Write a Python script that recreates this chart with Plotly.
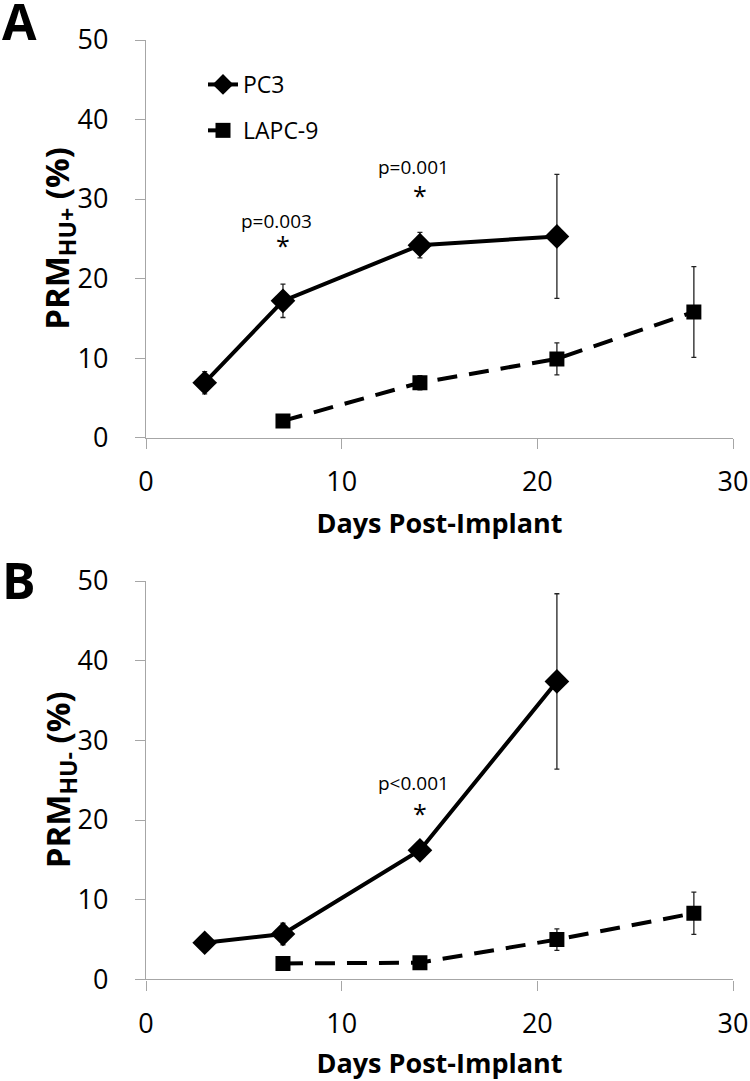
import plotly.graph_objects as go

# ---------------- data ----------------
days_pc3 = [3, 7, 14, 21]
days_lapc = [7, 14, 21, 28]

a_pc3 = [6.9, 17.2, 24.2, 25.3]
a_pc3_err = [1.4, 2.1, 1.6, 7.8]
a_lapc = [2.1, 6.9, 9.9, 15.8]
a_lapc_err = [0.3, 0.9, 2.0, 5.7]

b_pc3 = [4.6, 5.7, 16.2, 37.4]
b_pc3_err = [0.3, 1.35, 0.3, 11.0]
b_lapc = [2.0, 2.1, 5.0, 8.3]
b_lapc_err = [0.2, 0.3, 1.35, 2.65]

a_pvals = [(7, "p=0.003", 27.2, 24.4), (14, "p=0.001", 34.0, 30.6)]
b_pvals = [(14, "p<0.001", 24.7, 21.0)]

x_ticks = [0, 10, 20, 30]
y_ticks = [0, 10, 20, 30, 40, 50]

# ---------------- figure ----------------
W, H = 750, 1081
FONT = "Open Sans"
fig = go.Figure()

def add_series(x, y, err, name, symbol, size, dash, xa, ya, show):
    fig.add_trace(go.Scatter(
        x=x, y=y, name=name, mode="lines+markers",
        xaxis=xa, yaxis=ya, showlegend=show, legendgroup=name,
        line=dict(color="black", width=4, dash=dash),
        marker=dict(symbol=symbol, size=size, color="black"),
        error_y=dict(type="data", array=err, visible=True,
                     color="#222222", thickness=1.3, width=2.5),
    ))

add_series(days_pc3, a_pc3, a_pc3_err, "PC3", "diamond", 19, "solid", "x", "y", True)
add_series(days_lapc, a_lapc, a_lapc_err, "LAPC-9", "square", 15, "20px,12px", "x", "y", True)
add_series(days_pc3, b_pc3, b_pc3_err, "PC3", "diamond", 19, "solid", "x2", "y2", False)
add_series(days_lapc, b_lapc, b_lapc_err, "LAPC-9", "square", 15, "20px,12px", "x2", "y2", False)

xdom = [146 / W, 733 / W]
A_TOP, A_BOT = 40, 437.6
B_TOP, B_BOT = 581, 979.4
ydomA = [1 - A_BOT / H, 1 - A_TOP / H]
ydomB = [1 - B_BOT / H, 1 - B_TOP / H]

axis_common = dict(
    showline=True, linecolor="#a6a6a6", linewidth=1.3,
    ticks="outside", ticklen=10, tickcolor="#a6a6a6", tickwidth=1.3,
    showgrid=False, zeroline=False, automargin=False,
    tickfont=dict(family=FONT, size=27, color="black"),
)

xaxis_common = dict(axis_common, range=[0, 30], tickvals=x_ticks,
                    ticklabelstandoff=10,
                    title=dict(text="<b>Days Post-Implant</b>",
                               font=dict(family=FONT, size=27, color="black"),
                               standoff=15))

fig.update_layout(
    width=W, height=H,
    margin=dict(l=0, r=0, t=0, b=0),
    paper_bgcolor="white", plot_bgcolor="white",
    xaxis=dict(xaxis_common, domain=xdom, anchor="y"),
    yaxis=dict(axis_common, domain=ydomA, range=[0, 50], tickvals=y_ticks,
               anchor="x", ticklabelstandoff=21),
    xaxis2=dict(xaxis_common, domain=xdom, anchor="y2"),
    yaxis2=dict(axis_common, domain=ydomB, range=[0, 50], tickvals=y_ticks,
                anchor="x2", ticklabelstandoff=21),
    legend=dict(x=203 / W, y=1 - 63 / H, xanchor="left", yanchor="top",
                font=dict(family=FONT, size=23, color="black"),
                bgcolor="rgba(0,0,0,0)", tracegroupgap=13, itemwidth=30),
    showlegend=True,
)

annots = []
for xx, txt, ytxt, ystar in a_pvals:
    annots.append(dict(x=xx, y=ytxt, xref="x", yref="y", text=txt, showarrow=False,
                       font=dict(family=FONT, size=19, color="black"), xshift=-6))
    annots.append(dict(x=xx, y=ystar, xref="x", yref="y", text="*", showarrow=False,
                       font=dict(family=FONT, size=25, color="black"), yshift=-1))
for xx, txt, ytxt, ystar in b_pvals:
    annots.append(dict(x=xx, y=ytxt, xref="x2", yref="y2", text=txt, showarrow=False,
                       font=dict(family=FONT, size=19, color="black"), xshift=-6))
    annots.append(dict(x=xx, y=ystar, xref="x2", yref="y2", text="*", showarrow=False,
                       font=dict(family=FONT, size=25, color="black"), yshift=-1))

# y-axis titles (rotated), centred on each panel's y-domain
for txt, top, bot in [("<b>PRM<sub>HU+</sub> (%)</b>", A_TOP, A_BOT),
                      ("<b>PRM<sub>HU-</sub> (%)</b>", B_TOP, B_BOT)]:
    annots.append(dict(x=59 / W, y=1 - (top + bot) / 2 / H, xref="paper", yref="paper",
                       text=txt, textangle=-90, xanchor="center", yanchor="middle",
                       showarrow=False, font=dict(family=FONT, size=33, color="black")))

annots.append(dict(x=19 / W, y=1 - 21 / H, xref="paper", yref="paper", text="<b>A</b>",
                   xanchor="center", yanchor="middle",
                   showarrow=False, font=dict(family=FONT, size=50, color="black")))
annots.append(dict(x=19 / W, y=1 - 580 / H, xref="paper", yref="paper", text="<b>B</b>",
                   xanchor="center", yanchor="middle",
                   showarrow=False, font=dict(family=FONT, size=50, color="black")))
fig.update_layout(annotations=annots)

fig.write_html("out.html", post_script="document.body.style.margin='0px';",
               config={"displayModeBar": False})
